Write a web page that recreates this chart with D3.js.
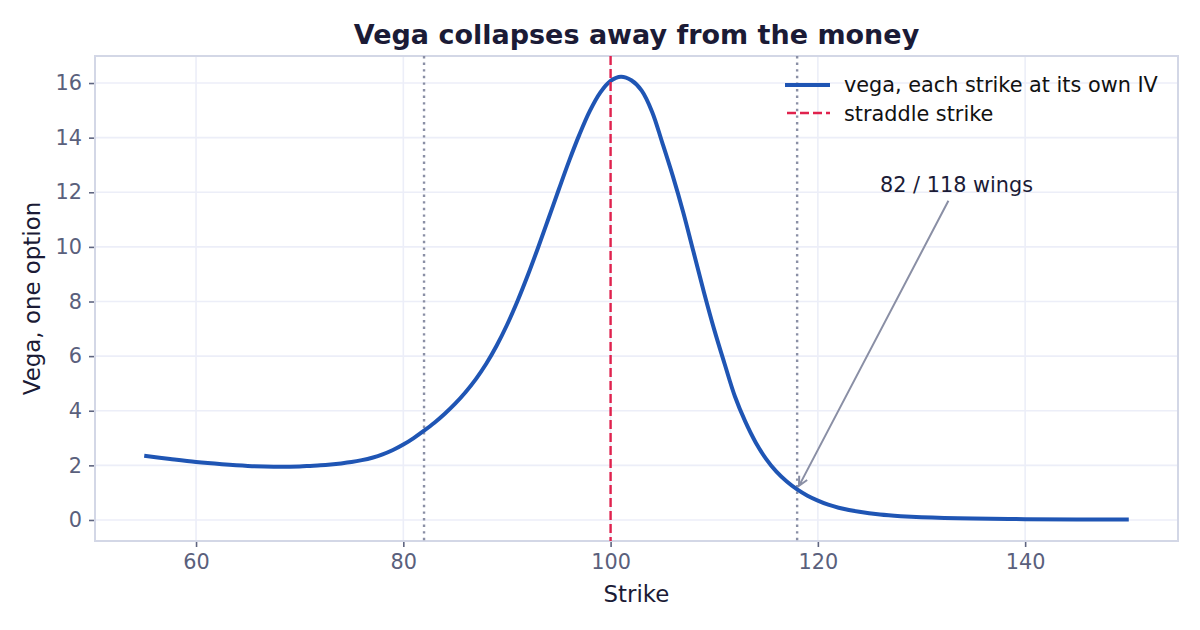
<!DOCTYPE html>
<html>
<head>
<meta charset="utf-8">
<script src="https://d3js.org/d3.v7.min.js"></script>
<style>
  body { margin: 0; background: #fff; }
  svg { display: block; font-family: "DejaVu Sans", sans-serif; }
</style>
</head>
<body>
<svg id="chart" width="1200" height="630"></svg>
<script>
  // strikes and vega
  var strikes = [55, 57.5, 60, 62.5, 65, 67.5, 70, 71, 72, 73, 74, 75, 76, 77,
                 78, 79, 80, 81, 82, 83, 84, 85, 86, 87, 88, 89, 90,
                 91, 92, 93, 94, 95, 96, 97, 98, 99, 100, 101, 102, 103,
                 104, 105, 106, 107, 108, 109, 110, 111, 112, 113, 114,
                 115, 116, 117, 118, 119, 120, 121, 122, 124, 126, 128, 130,
                 135, 140, 145, 150];
  var vega = [2.35, 2.23, 2.12, 2.04, 1.98, 1.95, 1.96, 1.98, 2.0, 2.03, 2.07, 2.12, 2.19, 2.28,
              2.4, 2.56, 2.76, 3.0, 3.27, 3.56, 3.89, 4.26, 4.68, 5.16, 5.72, 6.38, 7.14,
              8.0, 8.95, 9.97, 11.03, 12.1, 13.15, 14.12, 14.98, 15.65, 16.08, 16.23, 16.1, 15.72,
              14.95, 13.8, 12.6, 11.28, 9.82, 8.35, 6.97, 5.72, 4.52, 3.6, 2.84,
              2.24, 1.77, 1.41, 1.12, 0.89, 0.71, 0.56, 0.45, 0.3, 0.2, 0.14, 0.1,
              0.05, 0.03, 0.02, 0.02];
  var xTicks = [60, 80, 100, 120, 140];
  var yTicks = [0, 2, 4, 6, 8, 10, 12, 14, 16];
  var straddle = 100;
  var wings = [82, 118];

  var mLeft = 95, mRight = 1178, mTop = 56, mBottom = 541;
  var svg = d3.select("#chart");

  var x = d3.scaleLinear().domain([50.25, 154.75]).range([mLeft, mRight]);
  var y = d3.scaleLinear().domain([-0.77, 16.99]).range([mBottom, mTop]);

  // grid
  svg.append("g").selectAll("line").data(xTicks).enter().append("line")
    .attr("x1", d => x(d)).attr("x2", d => x(d))
    .attr("y1", mTop).attr("y2", mBottom)
    .attr("stroke", "#eceef8").attr("stroke-width", 1.6);
  svg.append("g").selectAll("line").data(yTicks).enter().append("line")
    .attr("x1", mLeft).attr("x2", mRight)
    .attr("y1", d => y(d)).attr("y2", d => y(d))
    .attr("stroke", "#eceef8").attr("stroke-width", 1.6);

  // axes
  var xAxis = svg.append("g").attr("transform", "translate(0," + mBottom + ")")
    .call(d3.axisBottom(x).tickValues(xTicks).tickSize(6).tickPadding(7));
  var yAxis = svg.append("g").attr("transform", "translate(" + mLeft + ",0)")
    .call(d3.axisLeft(y).tickValues(yTicks).tickSize(6).tickPadding(7));
  [xAxis, yAxis].forEach(function(a){
    a.select(".domain").remove();
    a.selectAll("line").attr("stroke", "#5f6580").attr("stroke-width", 1.6);
    a.selectAll("text").attr("fill", "#5a607c")
      .style("font-family", "DejaVu Sans").style("font-size", "20.8px");
  });

  // frame
  svg.append("rect").attr("x", mLeft).attr("y", mTop)
    .attr("width", mRight - mLeft).attr("height", mBottom - mTop)
    .attr("fill", "none").attr("stroke", "#d3d7e6").attr("stroke-width", 2);

  // wing markers
  svg.append("g").selectAll("line").data(wings).enter().append("line")
    .attr("x1", d => x(d)).attr("x2", d => x(d))
    .attr("y1", mTop).attr("y2", mBottom)
    .attr("stroke", "#8a8fa5").attr("stroke-width", 2.4)
    .attr("stroke-dasharray", "2.4,4.2");

  // vega curve
  var pts = strikes.map((k, i) => [k, vega[i]]);
  var line = d3.line().x(d => x(d[0])).y(d => y(d[1])).curve(d3.curveCatmullRom.alpha(0.5));
  svg.append("path").datum(pts).attr("d", line)
    .attr("fill", "none").attr("stroke", "#1f55b4").attr("stroke-width", 4)
    .attr("stroke-linejoin", "round");

  // straddle strike
  svg.append("line")
    .attr("x1", x(straddle)).attr("x2", x(straddle))
    .attr("y1", mTop).attr("y2", mBottom)
    .attr("stroke", "#e0224d").attr("stroke-width", 2.4)
    .attr("stroke-dasharray", "9,4");

  // title and labels
  svg.append("text").attr("x", (mLeft + mRight) / 2).attr("y", 44)
    .attr("text-anchor", "middle").attr("fill", "#1b1b36")
    .style("font-size", "27px").style("font-weight", "bold")
    .text("Vega collapses away from the money");
  svg.append("text").attr("x", (mLeft + mRight) / 2).attr("y", 602)
    .attr("text-anchor", "middle").attr("fill", "#1b1b36")
    .style("font-size", "22.9px").text("Strike");
  svg.append("text").attr("transform", "translate(40," + (mTop + mBottom) / 2 + ") rotate(-90)")
    .attr("text-anchor", "middle").attr("fill", "#1b1b36")
    .style("font-size", "22.9px").text("Vega, one option");

  // legend
  var lg = svg.append("g");
  lg.append("line").attr("x1", 785).attr("x2", 830).attr("y1", 85).attr("y2", 85)
    .attr("stroke", "#1f55b4").attr("stroke-width", 4);
  lg.append("line").attr("x1", 787).attr("x2", 830).attr("y1", 113).attr("y2", 113)
    .attr("stroke", "#e0224d").attr("stroke-width", 2.4).attr("stroke-dasharray", "9,4");
  lg.append("text").attr("x", 844).attr("y", 92).attr("fill", "#111")
    .style("font-size", "20.8px").text("vega, each strike at its own IV");
  lg.append("text").attr("x", 844).attr("y", 121).attr("fill", "#111")
    .style("font-size", "20.8px").text("straddle strike");

  // annotation
  var target = [x(118), y(vega[strikes.indexOf(118)])];
  var note = svg.append("text").attr("x", x(126)).attr("y", y(12))
    .attr("fill", "#1b1b36").style("font-size", "20.8px").text("82 / 118 wings");
  var bb = note.node().getBBox();
  var cx = bb.x + bb.width / 2, cy = bb.y + bb.height / 2;
  var dx = target[0] - cx, dy = target[1] - cy;
  var len = Math.sqrt(dx * dx + dy * dy), ux = dx / len, uy = dy / len;
  var tEdge = Math.min(Math.abs((bb.height / 2) / uy), Math.abs((bb.width / 2) / ux));
  var start = [cx + ux * (tEdge + 4), cy + uy * (tEdge + 4)];
  var tip = [target[0] - ux * 4, target[1] - uy * 4];
  var hl = 9, hw = 4.5;
  var bx = tip[0] - ux * hl, by = tip[1] - uy * hl;
  svg.append("path")
    .attr("d", "M" + start + "L" + tip +
      "M" + [bx - uy * hw, by + ux * hw] + "L" + tip + "L" + [bx + uy * hw, by - ux * hw])
    .attr("fill", "none").attr("stroke", "#8a8fa5").attr("stroke-width", 2);
</script>
</body>
</html>
